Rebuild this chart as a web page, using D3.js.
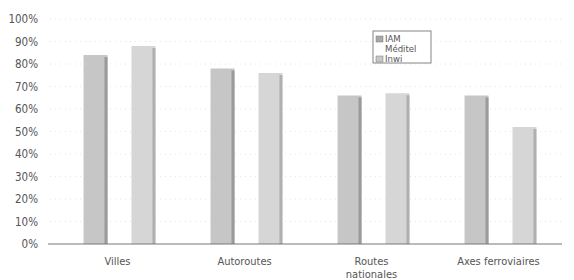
<!DOCTYPE html>
<html>
<head>
<meta charset="utf-8">
<script src="https://cdn.jsdelivr.net/npm/d3@7"></script>
<style>
  body { margin: 0; background: #fff; }
  svg text { font-family: "Liberation Sans Narrow", "DejaVu Sans Condensed", "Roboto", sans-serif; fill: #555; }
</style>
</head>
<body>
<svg id="chart" width="574" height="280"></svg>
<script>
// data
const categories = ["Villes", "Autoroutes", "Routes nationales", "Axes ferroviaires"];
const series = ["IAM", "Méditel", "Inwi"];
const iam = [0.84, 0.78, 0.66, 0.66];
const inwi = [0.88, 0.76, 0.67, 0.52];
const yTicks = [0, 0.1, 0.2, 0.3, 0.4, 0.5, 0.6, 0.7, 0.8, 0.9, 1];

const svg = d3.select("#chart");

const x = d3.scaleBand().domain(categories).range([56, 564]).padding(0);
const xs = d3.scaleBand().domain(series).range([0, x.bandwidth()]).paddingOuter(1.15).paddingInner(0);
const y = d3.scaleLinear().domain([0, 1]).range([244, 19]);

// faint dotted gridlines
svg.append("g").selectAll("line")
  .data(yTicks.slice(1))
  .enter().append("line")
  .attr("x1", 50).attr("x2", 562)
  .attr("y1", d => y(d)).attr("y2", d => y(d))
  .attr("stroke", "#e4e4e4")
  .attr("stroke-dasharray", "1,4");

// y axis labels
const yAxis = d3.axisLeft(y).tickValues(yTicks).tickFormat(d3.format(".0%")).tickSize(0).tickPadding(0);
svg.append("g")
  .attr("transform", "translate(38,0)")
  .call(yAxis)
  .call(g => g.select(".domain").remove())
  .selectAll("text").attr("font-size", 11.5).style("font-family", null);

// bars
const rows = [
  { key: "IAM", vals: iam, fill: "#c6c6c6", edge: "#9a9a9a" },
  { key: "Inwi", vals: inwi, fill: "#d6d6d6", edge: "#b0b0b0" }
];
rows.forEach(r => {
  const g = svg.append("g");
  const data = categories.map((c, i) => ({ c, v: r.vals[i] }));
  g.selectAll("rect.bar").data(data).enter().append("rect")
    .attr("class", "bar")
    .attr("x", d => x(d.c) + xs(r.key))
    .attr("y", d => y(d.v))
    .attr("width", xs.bandwidth())
    .attr("height", d => y(0) - y(d.v))
    .attr("fill", r.fill);
  g.selectAll("rect.edge").data(data).enter().append("rect")
    .attr("class", "edge")
    .attr("x", d => x(d.c) + xs(r.key) + xs.bandwidth() - 3)
    .attr("y", d => y(d.v) + 2)
    .attr("width", 3)
    .attr("height", d => y(0) - y(d.v) - 2)
    .attr("fill", r.edge);
});

// baseline
svg.append("line")
  .attr("x1", 48).attr("x2", 562)
  .attr("y1", y(0)).attr("y2", y(0))
  .attr("stroke", "#777").attr("stroke-width", 1);

// x labels
const xl = svg.append("g").selectAll("text")
  .data(categories).enter().append("text")
  .attr("text-anchor", "middle")
  .attr("font-size", 11)
  .attr("x", d => x(d) + x.bandwidth() / 2 - 2)
  .attr("y", 265);
xl.each(function(d) {
  const t = d3.select(this);
  const parts = d === "Routes nationales" ? ["Routes", "nationales"] : [d];
  parts.forEach((p, i) => t.append("tspan").attr("x", t.attr("x")).attr("dy", i ? 13 : 0).text(p));
});

// legend
const lg = svg.append("g").attr("transform", "translate(373,31)");
lg.append("rect").attr("width", 58).attr("height", 32).attr("fill", "#fff").attr("stroke", "#666").attr("stroke-width", 0.8);
const legendFill = { "IAM": "#a8a8a8", "Méditel": null, "Inwi": "#c8c8c8" };
series.forEach((s, i) => {
  if (legendFill[s]) {
    lg.append("rect").attr("x", 3).attr("y", 5 + i * 10).attr("width", 7).attr("height", 6)
      .attr("fill", legendFill[s]).attr("stroke", "#777").attr("stroke-width", 0.5);
  }
  lg.append("text").attr("x", 12).attr("y", 11 + i * 10).attr("font-size", 9.5).text(s);
});
</script>
</body>
</html>
